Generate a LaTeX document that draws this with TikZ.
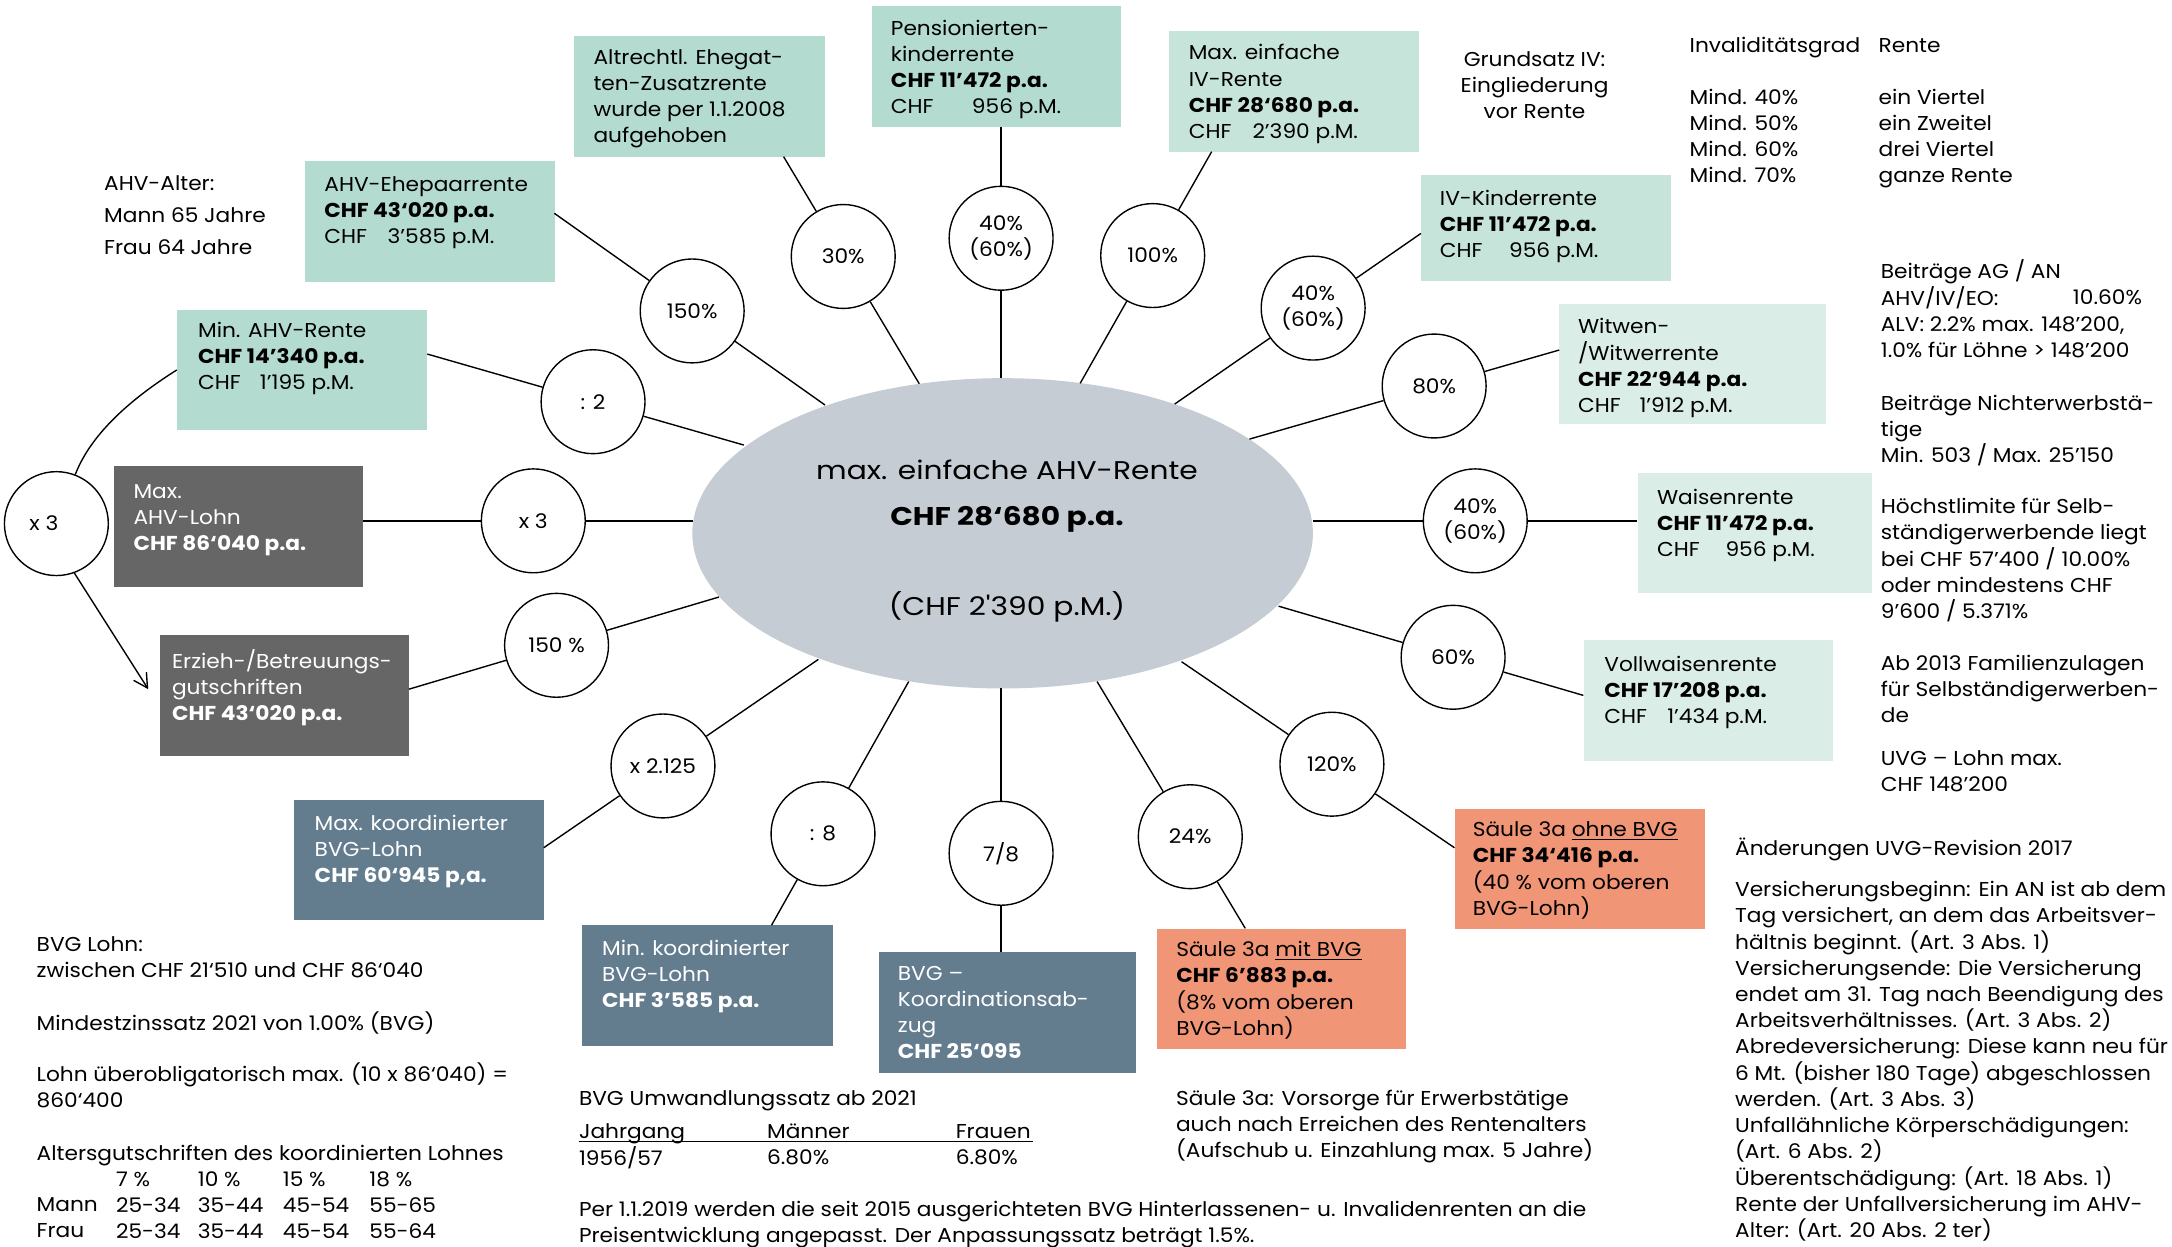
\documentclass[tikz,border=0pt]{standalone}
\usepackage{fontspec}
\setmainfont[FakeStretch=1.08]{Poppins}
\newfontfamily\ellfont[FakeStretch=1.16]{Poppins}
\usetikzlibrary{shapes.geometric,calc,arrows.meta}
\definecolor{mintA}{RGB}{179,219,207}
\definecolor{mintB}{RGB}{199,228,218}
\definecolor{mintC}{RGB}{218,237,231}
\definecolor{grayD}{RGB}{102,102,102}
\definecolor{blueG}{RGB}{99,125,143}
\definecolor{salm}{RGB}{241,149,119}
\definecolor{ellG}{RGB}{197,204,211}
\newcommand\fs{\fontsize{14.5pt}{18.8pt}\selectfont}
\newcommand\ml[1]{\begin{tabular}[t]{@{}l@{}}#1\end{tabular}}
\newcommand\mlc[1]{\begin{tabular}[t]{@{}c@{}}#1\end{tabular}}
\newcommand\chfpm[2]{\makebox[#1][l]{CHF}#2}
\tikzset{
  box/.style={rectangle, inner sep=0pt, anchor=north west, draw=none},
  txt/.style={inner sep=0pt, anchor=base west, font=\fs},
  txtw/.style={txt, text=white},
  etxt/.style={inner sep=0pt, anchor=base, font=\ellfont\fontsize{18.5pt}{22pt}\selectfont},
  circ/.style={circle, draw, fill=white, line width=1pt, minimum size=75pt, inner sep=0pt, font=\fs, align=center},
  spoke/.style={line width=1pt},
}
\begin{document}
\begin{tikzpicture}[x=1pt,y=-1pt]
\fill[white] (0,0) rectangle (1568,900);
\useasboundingbox (0,0) rectangle (1568,900);

% boxes
\node[box, fill=mintA, minimum width=181pt, minimum height=87pt] (bAlt) at (414.3,26) {};
\node[box, fill=mintA, minimum width=180pt, minimum height=87.2pt] (bPens) at (629,4.3) {};
\node[box, fill=mintA, minimum width=180pt, minimum height=87.3pt] (bEhe) at (220.2,116.2) {};
\node[box, fill=mintA, minimum width=180.4pt, minimum height=87.2pt] (bMinAHV) at (127.6,223.3) {};
\node[box, fill=mintB, minimum width=180.2pt, minimum height=87.1pt] (bIV) at (844,22.4) {};
\node[box, fill=mintB, minimum width=180.2pt, minimum height=76.4pt] (bIVK) at (1025.8,126.4) {};
\node[box, fill=mintC, minimum width=192.4pt, minimum height=86.5pt] (bWit) at (1125.6,219.5) {};
\node[box, fill=mintC, minimum width=169pt, minimum height=87pt] (bWais) at (1182,341) {};
\node[box, fill=mintC, minimum width=180pt, minimum height=87pt] (bVoll) at (1143,462) {};
\node[box, fill=grayD, minimum width=180.2pt, minimum height=87.1pt] (bMaxLohn) at (81.8,336.5) {};
\node[box, fill=grayD, minimum width=179.8pt, minimum height=87.1pt] (bErz) at (115.5,458.5) {};
\node[box, fill=blueG, minimum width=180.8pt, minimum height=87pt] (bMaxK) at (211.7,577.1) {};
\node[box, fill=blueG, minimum width=181.2pt, minimum height=87.3pt] (bMinK) at (420,667.9) {};
\node[box, fill=blueG, minimum width=186pt, minimum height=87.4pt] (bKoord) at (634,687.1) {};
\node[box, fill=salm, minimum width=180pt, minimum height=87.2pt] (bSmit) at (835,670.2) {};
\node[box, fill=salm, minimum width=180.3pt, minimum height=87.1pt] (bSohne) at (1050,583.6) {};

% box texts
\node[txt] (tAlt) at (428.3,46.2) {\ml{Altrechtl. Ehegat-\\ten-Zusatzrente\\wurde per 1.1.2008\\aufgehoben}};
\node[txt] (tPens) at (643,25.3) {\ml{Pensionierten-\\kinderrente\\\textbf{CHF 11’472 p.a.}\\\chfpm{58.5pt}{956 p.M.}}};
\node[txt] (tEhe) at (234,137.9) {\ml{AHV-Ehepaarrente\\\textbf{CHF 43‘020 p.a.}\\\chfpm{45.7pt}{3’585 p.M.}}};
\node[txt] (tMinAHV) at (142.8,243.6) {\ml{Min. AHV-Rente\\\textbf{CHF 14’340 p.a.}\\\chfpm{44.6pt}{1’195 p.M.}}};
\node[txt] (tIV) at (858,43.3) {\ml{Max. einfache\\IV-Rente\\\textbf{CHF 28‘680 p.a.}\\\chfpm{46pt}{2’390 p.M.}}};
\node[txt] (tIVK) at (1039.3,148) {\ml{IV-Kinderrente\\\textbf{CHF 11’472 p.a.}\\\chfpm{50pt}{956 p.M.}}};
\node[txt] (tWit) at (1139,240.7) {\ml{Witwen-\\/Witwerrente\\\textbf{CHF 22‘944 p.a.}\\\chfpm{44.4pt}{1’912 p.M.}}};
\node[txt] (tWais) at (1196,363.9) {\ml{Waisenrente\\\textbf{CHF 11’472 p.a.}\\\chfpm{49.5pt}{956 p.M.}}};
\node[txt] (tVoll) at (1158,485) {\ml{Vollwaisenrente\\\textbf{CHF 17’208 p.a.}\\\chfpm{45.4pt}{1’434 p.M.}}};
\node[txtw] (tMaxLohn) at (96.2,359.8) {\ml{Max.\\AHV-Lohn\\\textbf{CHF 86‘040 p.a.}}};
\node[txtw] (tErz) at (124,482.5) {\ml{Erzieh-/Betreuungs-\\gutschriften\\\textbf{CHF 43‘020 p.a.}}};
\node[txtw] (tMaxK) at (227,599.3) {\ml{Max. koordinierter\\BVG-Lohn\\\textbf{CHF 60‘945 p,a.}}};
\node[txtw] (tMinK) at (434.5,689.5) {\ml{Min. koordinierter\\BVG-Lohn\\\textbf{CHF 3’585 p.a.}}};
\node[txtw] (tKoord) at (648,707.6) {\ml{BVG –\\Koordinationsab-\\zug\\\textbf{CHF 25‘095}}};
\node[txt] (tSmit) at (849,690.7) {\ml{Säule 3a \underline{mit BVG}\\\textbf{CHF 6’883 p.a.}\\(8\% vom oberen\\BVG-Lohn)}};
\node[txt] (tSohne) at (1063,604) {\ml{Säule 3a \underline{ohne BVG}\\\textbf{CHF 34‘416 p.a.}\\(40 \% vom oberen\\BVG-Lohn)}};

% central ellipse
\node[ellipse, fill=ellG, minimum width=448pt, minimum height=224pt, inner sep=0pt] (ell) at (723.8,385) {};
\node[etxt] (et1) at (727,346) {max. einfache AHV-Rente};
\node[etxt] (et2) at (727,379) {\textbf{CHF 28‘680 p.a.}};
\node[etxt] (et3) at (727,444) {(CHF 2'390 p.M.)};

% spoke end points
\coordinate (e1) at (595.6,292.4);  \coordinate (a1) at (400.2,154);
\coordinate (e2) at (663.6,277);    \coordinate (a2) at (565.7,113.1);
\coordinate (e3) at (722.7,273);    \coordinate (a3) at (722.7,91.5);
\coordinate (e4) at (779.8,276.7);  \coordinate (a4) at (874.7,109.5);
\coordinate (e5) at (848,291.7);    \coordinate (a5) at (1025.8,168.5);
\coordinate (e6) at (902,317);      \coordinate (a6) at (1125.6,252.7);
\coordinate (e7) at (948,376);      \coordinate (a7) at (1182,376);
\coordinate (e8) at (923,437.6);    \coordinate (a8) at (1143,502);
\coordinate (e9) at (853,477.7);    \coordinate (a9) at (1050,612);
\coordinate (e10) at (792,492);     \coordinate (a10) at (899,670.2);
\coordinate (e11) at (722.7,497);   \coordinate (a11) at (722.7,687.1);
\coordinate (e12) at (656,492);     \coordinate (a12) at (557,667.9);
\coordinate (e13) at (590.8,476);   \coordinate (a13) at (392.5,612);
\coordinate (e14) at (519,431);     \coordinate (a14) at (295.3,497.5);
\coordinate (e15) at (500,376);     \coordinate (a15) at (262,376);
\coordinate (e16) at (537,321.3);   \coordinate (a16) at (308.5,255.6);

% circles
\node[circ] (c1) at ($(e1)!(500,224)!(a1)$) {150\%};
\node[circ] (c2) at ($(e2)!(614,182)!(a2)$) {30\%};
\node[circ] (c3) at ($(e3)!(722,172)!(a3)$) {40\%\\(60\%)};
\node[circ] (c4) at ($(e4)!(826,181)!(a4)$) {100\%};
\node[circ] (c5) at ($(e5)!(947,221)!(a5)$) {40\%\\(60\%)};
\node[circ] (c6) at ($(e6)!(1034,274)!(a6)$) {80\%};
\node[circ] (c7) at ($(e7)!(1065,378)!(a7)$) {40\%\\(60\%)};
\node[circ] (c8) at ($(e8)!(1048,478)!(a8)$) {60\%};
\node[circ] (c9) at ($(e9)!(962,551)!(a9)$) {120\%};
\node[circ] (c10) at ($(e10)!(861,603)!(a10)$) {24\%};
\node[circ] (c11) at ($(e11)!(723,616)!(a11)$) {7/8};
\node[circ] (c12) at ($(e12)!(596,603)!(a12)$) {: 8};
\node[circ] (c13) at ($(e13)!(480,555)!(a13)$) {x 2.125};
\node[circ] (c14) at ($(e14)!(403,470)!(a14)$) {150 \%};
\node[circ] (c15) at ($(e15)!(385,377)!(a15)$) {x 3};
\node[circ] (c16) at ($(e16)!(429,287)!(a16)$) {: 2};
\node[circ] (x3l) at (40.7,378) {x 3\hspace*{18pt}};

% spokes
\foreach \i in {1,...,16} {\draw[spoke] (e\i) -- (c\i) -- (a\i);}

% left connectors
\draw[spoke] (bMinAHV.west) .. controls (86.5,293) and (63.7,318.3) .. (x3l);
\coordinate (etip) at (107,497.5);
\draw[spoke, -{Straight Barb[length=10pt,width=11pt]}] (x3l.-70) -- (etip);

% free texts
\node[txt, font=\fontsize{14.5pt}{22.9pt}\selectfont] (tAlter) at (75,137.7) {\ml{AHV-Alter:\\Mann 65 Jahre\\Frau 64 Jahre}};
\node[txt, anchor=base] (tGrund) at (1107.8,47.7) {\mlc{Grundsatz IV:\\Eingliederung\\vor Rente}};
\node[txt] (tInv) at (1219.6,38) {\ml{Invaliditätsgrad\\ \\Mind. 40\%\\Mind. 50\%\\Mind. 60\%\\Mind. 70\%}};
\node[txt] (tRente) at (1356,38) {\ml{Rente\\ \\ein Viertel\\ein Zweitel\\drei Viertel\\ganze Rente}};
\node[txt] (tBeit) at (1357.6,201) {\ml{Beiträge AG / AN\\AHV/IV/EO:\\ALV: 2.2\% max. 148’200,\\1.0\% für Löhne > 148’200}};
\node[txt, anchor=base east] (tBeitP) at (1546.5,219.5) {10.60\%};
\node[txt] (tNicht) at (1357.6,296) {\ml{Beiträge Nichterwerbstä-\\tige\\Min. 503 / Max. 25’150}};
\node[txt] (tHoechst) at (1357.6,370.6) {\ml{Höchstlimite für Selb-\\ständigerwerbende liegt\\bei CHF 57’400 / 10.00\%\\oder mindestens CHF\\9’600 / 5.371\%}};
\node[txt] (tFam) at (1357.6,483.7) {\ml{Ab 2013 Familienzulagen\\für Selbständigerwerben-\\de}};
\node[txt] (tUVG) at (1357.6,552.3) {\ml{UVG – Lohn max.\\CHF 148’200}};
\node[txt] (tAend) at (1252.4,617.3) {Änderungen UVG-Revision 2017};
\node[txt, font=\fontsize{14.5pt}{18.7pt}\selectfont] (tVers) at (1252.4,647.4) {\ml{Versicherungsbeginn: Ein AN ist ab dem\\Tag versichert, an dem das Arbeitsver-\\hältnis beginnt. (Art. 3 Abs. 1)\\Versicherungsende: Die Versicherung\\endet am 31. Tag nach Beendigung des\\Arbeitsverhältnisses. (Art. 3 Abs. 2)\\Abredeversicherung: Diese kann neu für\\6 Mt. (bisher 180 Tage) abgeschlossen\\werden. (Art. 3 Abs. 3)\\Unfallähnliche Körperschädigungen:\\(Art. 6 Abs. 2)\\Überentschädigung: (Art. 18 Abs. 1)\\Rente der Unfallversicherung im AHV-\\Alter: (Art. 20 Abs. 2 ter)}};
\node[txt] (tS3a) at (848.8,797.8) {\ml{Säule 3a: Vorsorge für Erwerbstätige\\auch nach Erreichen des Rentenalters\\(Aufschub u. Einzahlung max. 5 Jahre)}};
\node[txt] (tUmw) at (417.8,797.8) {BVG Umwandlungssatz ab 2021};
\node[txt] (tJahr) at (417.8,821.9) {\ml{Jahrgang\\1956/57}};
\node[txt] (tMaen) at (553.6,821.9) {\ml{Männer\\6.80\%}};
\node[txt] (tFrau) at (689.8,821.9) {\ml{Frauen\\6.80\%}};
\coordinate (ulA) at (417.8,824.3); \coordinate (ulB) at (745.5,824.3);
\draw[line width=0.9pt] (ulA) -- (ulB);
\node[txt] (tPer) at (417.8,878.5) {\ml{Per 1.1.2019 werden die seit 2015 ausgerichteten BVG Hinterlassenen- u. Invalidenrenten an die\\Preisentwicklung angepasst. Der Anpassungssatz beträgt 1.5\%.}};
\node[txt] (tBVGL) at (26.3,687.1) {\ml{BVG Lohn:\\zwischen CHF 21‘510 und CHF 86‘040}};
\node[txt] (tMindz) at (26.3,743.7) {Mindestzinssatz 2021 von 1.00\% (BVG)};
\node[txt] (tLohnu) at (26.3,781) {\ml{Lohn überobligatorisch max. (10 x 86‘040) =\\860‘400}};
\node[txt] (tAltg) at (26.3,837.5) {Altersgutschriften des koordinierten Lohnes};
\node[txt] (tRows) at (26.3,874.8) {\ml{Mann\\Frau}};
\node[txt] (tCol1) at (83.6,856.3) {\ml{7 \%\\25-34\\25-34}};
\node[txt] (tCol2) at (142.6,856.3) {\ml{10 \%\\35-44\\35-44}};
\node[txt] (tCol3) at (204,856.3) {\ml{15 \%\\45-54\\45-54}};
\node[txt] (tCol4) at (266.5,856.3) {\ml{18 \%\\55-65\\55-64}};
\end{tikzpicture}
\end{document}
